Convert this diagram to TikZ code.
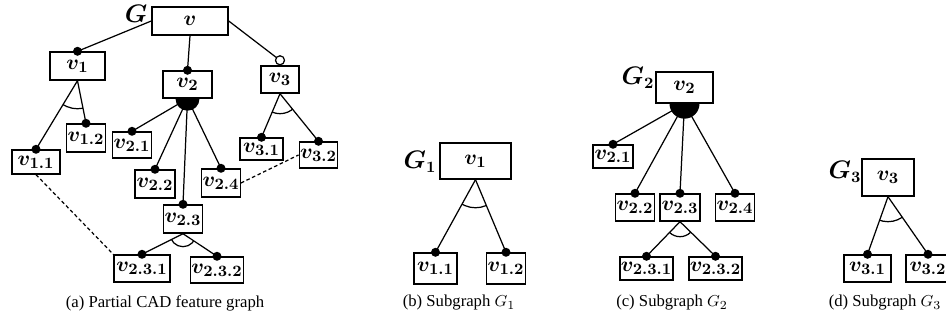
\documentclass[tikz,border=0pt]{standalone}
\usepackage{amsmath}
\usepackage{bm}
\usepackage{fontspec}
\newfontfamily\capfont{Liberation Serif}
\usepackage{tikz}
\usetikzlibrary{positioning,calc}

\tikzset{
  box/.style={draw, line width=0.8pt, fill=white, inner sep=0.5pt,
    minimum width=7.6mm, minimum height=5.4mm, font=\fontsize{13}{15}\selectfont},
  tie/.style={line width=0.7pt},
  hollow/.style={draw, fill=white, line width=0.7pt},
  gname/.style={font=\fontsize{13.5}{15}\selectfont},
  caption/.style={font=\capfont\fontsize{9.5}{11}\selectfont},
}

\begin{document}
\begin{tikzpicture}[x=0.2mm,y=0.2mm]
  \useasboundingbox (0,0) rectangle (946,320);

  % (a) partial feature graph
  \node[box, minimum width=15.2mm, minimum height=5.6mm] (v) at (190,299) {$\bm{v}$};
  \node[gname] (G) at (136,306) {$\bm{G}$};
  \node[box, minimum width=11mm, minimum height=5.6mm] (v1) at (77.5,254) {$\bm{v_1}$};
  \node[box, minimum width=9.8mm] (v2) at (187.5,235.5) {$\bm{v_2}$};
  \node[box] (v3) at (280,240.5) {$\bm{v_3}$};
  \node[box, minimum width=7.2mm, minimum height=5.6mm] (v12) at (86,182) {$\bm{v_{1.2}}$};
  \node[box, minimum height=5.2mm] (v21) at (132,175) {$\bm{v_{2.1}}$};
  \node[box, minimum width=8.6mm, minimum height=4.4mm] (v31) at (261.5,171) {$\bm{v_{3.1}}$};
  \node[box, minimum height=5.2mm] (v32) at (318.5,165) {$\bm{v_{3.2}}$};
  \node[box, minimum width=9.6mm, minimum height=4.8mm] (v11) at (36,158) {$\bm{v_{1.1}}$};
  \node[box, minimum width=8mm, minimum height=5.6mm] (v22) at (155,136) {$\bm{v_{2.2}}$};
  \node[box, minimum height=5.6mm] (v24) at (221,137) {$\bm{v_{2.4}}$};
  \node[box, minimum height=5.6mm] (v23) at (183,101) {$\bm{v_{2.3}}$};
  \node[box, minimum width=11.2mm] (v231) at (142,51.5) {$\bm{v_{2.3.1}}$};
  \node[box, minimum width=9.6mm, minimum height=5.2mm] (v232) at (217,50) {$\bm{v_{2.3.2}}$};

  \draw[tie] (v.west) -- (v1.north);
  \fill (v1.north) circle[radius=4.5];
  \draw[tie] (v.south) -- (v2.north);
  \fill (v2.north) circle[radius=4.5];
  \coordinate (o3) at ([yshift=1mm]v3.north);
  \draw[tie] (v.east) -- (o3);
  \draw[hollow] (o3) circle[radius=4.5];

  \draw[tie] (v1.south) -- (v11.north);
  \draw[tie] (v1.south) -- (v12.north);
  \fill (v11.north) circle[radius=4.5];
  \fill (v12.north) circle[radius=4.5];
  \begin{scope}
    \clip (v1.south) -- (v11.north) -- (v12.north) -- cycle;
    \draw[tie] (v1.south) circle[radius=28];
  \end{scope}

  \draw[tie] (v2.south) -- (v21.north);
  \draw[tie] (v2.south) -- (v22.north);
  \draw[tie] (v2.south) -- (v23.north);
  \draw[tie] (v2.south) -- (v24.north);
  \fill (v2.south) ++(-12,0) arc[start angle=180, end angle=360, radius=12] -- cycle;
  \fill (v21.north) circle[radius=4.5];
  \fill (v22.north) circle[radius=4.5];
  \fill (v23.north) circle[radius=4.5];
  \fill (v24.north) circle[radius=4.5];

  \draw[tie] (v3.south) -- (v31.north);
  \draw[tie] (v3.south) -- (v32.north);
  \fill (v31.north) circle[radius=4.5];
  \fill (v32.north) circle[radius=4.5];
  \begin{scope}
    \clip (v3.south) -- (v31.north) -- (v32.north) -- cycle;
    \draw[tie] (v3.south) circle[radius=20];
  \end{scope}

  \draw[tie] (v23.south) -- (v231.north);
  \draw[tie] (v23.south) -- (v232.north);
  \fill (v231.north) circle[radius=4.5];
  \fill (v232.north) circle[radius=4.5];
  \begin{scope}
    \clip (v23.south) -- (v231.north) -- (v232.north) -- cycle;
    \draw[tie] (v23.south) circle[radius=13];
  \end{scope}

  \draw[tie, dash pattern=on 2pt off 1.5pt] (v11.south) -- (v231.north west);
  \draw[tie, dash pattern=on 2pt off 1.5pt] (v24.east) -- (v32.west);

  \node[caption] (capa) at (165,17) {(a) Partial CAD feature graph};

  % (b) subgraph G1
  \node[box, minimum width=14.2mm, minimum height=7.2mm] (bv1) at (475.5,159) {$\bm{v_1}$};
  \node[gname] (G1) at (420,158) {$\bm{G_1}$};
  \node[box, minimum width=8.6mm, minimum height=6.2mm] (bv11) at (435.5,51.5) {$\bm{v_{1.1}}$};
  \node[box, minimum height=6.2mm] (bv12) at (506,51.5) {$\bm{v_{1.2}}$};
  \draw[tie] (bv1.south) -- (bv11.north);
  \draw[tie] (bv1.south) -- (bv12.north);
  \fill (bv11.north) circle[radius=4.5];
  \fill (bv12.north) circle[radius=4.5];
  \begin{scope}
    \clip (bv1.south) -- (bv11.north) -- (bv12.north) -- cycle;
    \draw[tie] (bv1.south) circle[radius=28];
  \end{scope}
  \node[caption] (capb) at (459,17) {(b) Subgraph $G_1$};

  % (c) subgraph G2
  \node[box, minimum width=11.4mm, minimum height=6.2mm] (cv2) at (684.5,232.5) {$\bm{v_2}$};
  \node[gname] (G2) at (638,242) {$\bm{G_2}$};
  \node[box, minimum width=8mm, minimum height=4.6mm] (cv21) at (613,163.5) {$\bm{v_{2.1}}$};
  \node[box] (cv22) at (635,112.5) {$\bm{v_{2.2}}$};
  \node[box, minimum width=8mm] (cv23) at (680,112.5) {$\bm{v_{2.3}}$};
  \node[box] (cv24) at (735,112.5) {$\bm{v_{2.4}}$};
  \node[box, minimum width=9.4mm, minimum height=4.6mm] (cv231) at (646.5,51.5) {$\bm{v_{2.3.1}}$};
  \node[box, minimum width=9.8mm, minimum height=4.6mm] (cv232) at (715.5,51.5) {$\bm{v_{2.3.2}}$};
  \draw[tie] (cv2.south) -- (cv21.north);
  \draw[tie] (cv2.south) -- (cv22.north);
  \draw[tie] (cv2.south) -- (cv23.north);
  \draw[tie] (cv2.south) -- (cv24.north);
  \fill (cv2.south) ++(-15,0) arc[start angle=180, end angle=360, radius=15] -- cycle;
  \fill (cv21.north) circle[radius=4.5];
  \fill (cv22.north) circle[radius=4.5];
  \fill (cv23.north) circle[radius=4.5];
  \fill (cv24.north) circle[radius=4.5];
  \draw[tie] (cv23.south) -- (cv231.north);
  \draw[tie] (cv23.south) -- (cv232.north);
  \fill (cv231.north) circle[radius=4.5];
  \fill (cv232.north) circle[radius=4.5];
  \begin{scope}
    \clip (cv23.south) -- (cv231.north) -- (cv232.north) -- cycle;
    \draw[tie] (cv23.south) circle[radius=15];
  \end{scope}
  \node[caption] (capc) at (672,17) {(c) Subgraph $G_2$};

  % (d) subgraph G3
  \node[box, minimum width=10.4mm, minimum height=7.4mm] (dv3) at (888,142.5) {$\bm{v_3}$};
  \node[gname] (G3) at (845,148) {$\bm{G_3}$};
  \node[box, minimum width=9.4mm] (dv31) at (867.5,51.5) {$\bm{v_{3.1}}$};
  \node[box, minimum width=8.8mm] (dv32) at (928,51.5) {$\bm{v_{3.2}}$};
  \draw[tie] (dv3.south) -- (dv31.north);
  \draw[tie] (dv3.south) -- (dv32.north);
  \fill (dv31.north) circle[radius=4.5];
  \fill (dv32.north) circle[radius=4.5];
  \begin{scope}
    \clip (dv3.south) -- (dv31.north) -- (dv32.north) -- cycle;
    \draw[tie] (dv3.south) circle[radius=25];
  \end{scope}
  \node[caption] (capd) at (885,17) {(d) Subgraph $G_3$};
\end{tikzpicture}
\end{document}
